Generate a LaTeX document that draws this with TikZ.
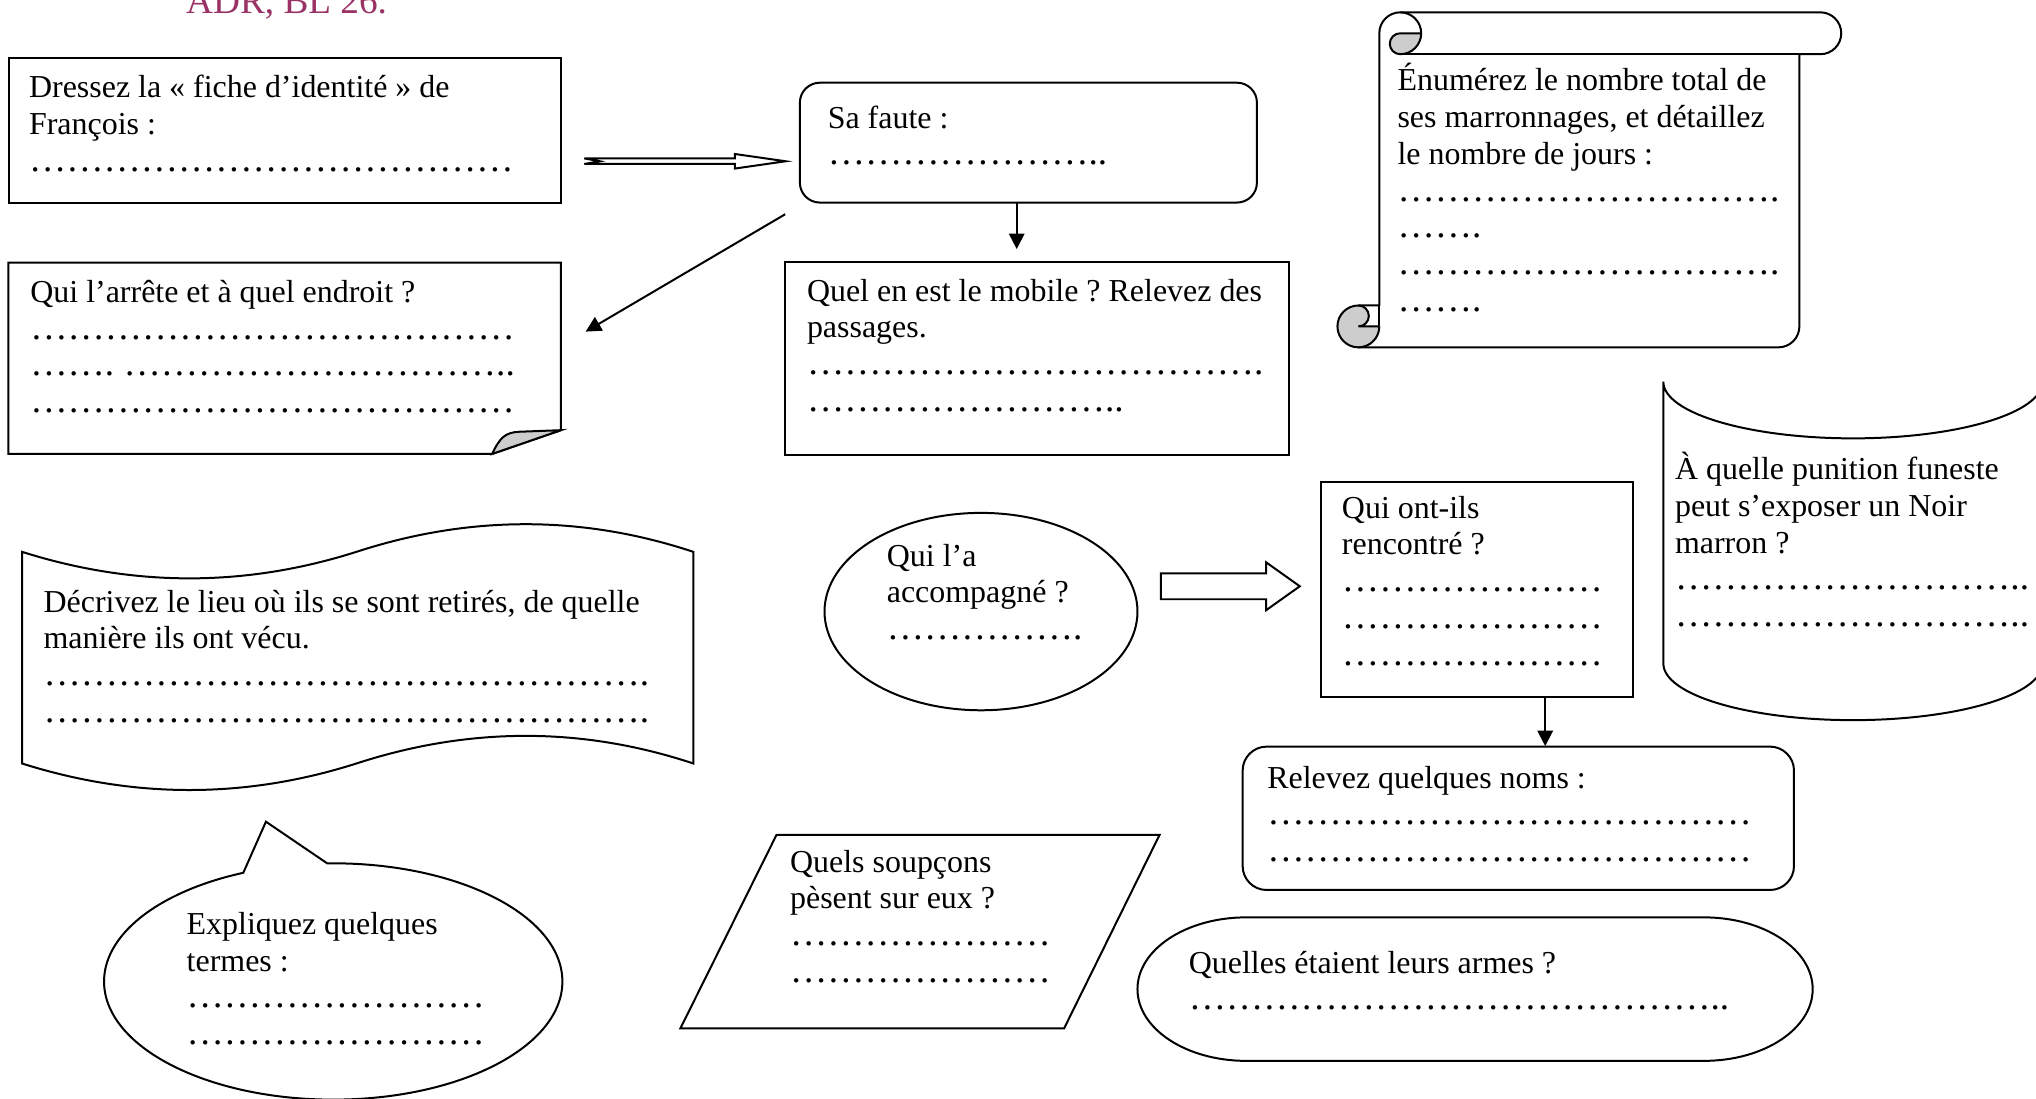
\documentclass[tikz,border=0pt]{standalone}
\usepackage{fontspec}
\setmainfont{Liberation Serif}
\usetikzlibrary{arrows.meta,fit,shapes.geometric}
\definecolor{plumtitle}{RGB}{153,51,102}
\definecolor{foldgray}{RGB}{205,205,205}
\makeatletter
\newcommand\ddd[1]{\count@=#1\relax\loop\ifnum\count@>0 …\advance\count@-1 \repeat}
\makeatother
\newcommand\dl[1]{{\fontsize{14pt}{13.8pt}\selectfont #1}}
\frenchspacing
\tikzset{
  lw/.style={line width=0.75pt},
  boxst/.style={draw, lw, inner sep=0pt, outer sep=0pt},
  txt/.style={anchor=base west, inner sep=0pt, outer sep=0pt, text width=330pt, align=left,
              font=\fontsize{12pt}{13.8pt}\selectfont\frenchspacing,
              execute at begin node={\spaceskip=0pt\xspaceskip=0pt\relax}},
  arr/.style={lw, -{Triangle[length=5.8pt,width=5.8pt]}},
}
\begin{document}
\begin{tikzpicture}[x=0.4878pt, y=-0.4878pt]
\useasboundingbox (0,0) rectangle (1568,846);
\clip (0,0) rectangle (1568,846);

% title
\node[anchor=base west, inner sep=0pt, text=plumtitle, font=\fontsize{14pt}{16pt}\selectfont] (title) at (143,10.3) {ADR, BL 26.};

% box 1
\node[boxst, fit={(7,45)(432,156)}] (b1) {};
\node[txt] (t1) at (22.4,75.2) {Dressez la «~fiche d’identité~» de\\François :\\\dl{\ddd{13}}};

% notched arrow
\draw[lw] (450,122) -- (566,122) -- (566,118.6) -- (605,124.2) -- (566,129.8) -- (566,126.3) -- (450,126.3) -- (462,124.2) -- cycle;

% Sa faute
\node[boxst, rounded corners=7.5pt, fit={(616,63.7)(968,156)}] (b2) {};
\node[txt] (t2) at (637.5,98.6) {Sa faute :\\\dl{\ddd{7}..}};

% Qui l'arrete (folded corner)
\draw[lw] (6.5,202.3) -- (432,202.3) -- (432,331.3) -- (379,349.6) -- (6.5,349.6) -- cycle;
\filldraw[lw, fill=foldgray] (379,349.6) .. controls (385,337) and (389,333) .. (400,332.5) -- (432,331.3) -- cycle;
\node[txt] (t3) at (23.4,232.8) {Qui l’arrête et à quel endroit ?\\\dl{\ddd{13}}\\\dl{\ddd{2}. \ddd{10}..}\\\dl{\ddd{13}}};

% Quel mobile
\node[boxst, fit={(604.6,201.5)(992.7,350.4)}] (b4) {};
\node[txt] (t4) at (621.5,232) {Quel en est le mobile ? Relevez des\\passages.\\\dl{\ddd{12}.}\\\dl{\ddd{8}..}};

% connectors
\coordinate (c1s) at (604.7,165);
\coordinate (c1e) at (451,255.4);
\draw[arr] (c1s) -- (c1e);
\coordinate (c2s) at (783,156);
\coordinate (c2e) at (783,191.8);
\draw[arr] (c2s) -- (c2e);

% scroll
\fill[foldgray] (1094.5,25.625) arc[start angle=0,end angle=90,radius=16.125] arc[start angle=90,end angle=270,radius=8.0625] -- cycle;
\fill[foldgray] (1046.125,251.375) circle[radius=16.125];
\fill[white] (1046.125,235.25) -- (1062.25,235.25) -- (1062.25,251.375) -- (1046.125,251.375) arc[start angle=90,end angle=-90,radius=8.0625] -- cycle;
\draw[lw, line join=round] (1062.25,235.25) -- (1062.25,25.625) arc[start angle=180,end angle=270,radius=16.125] -- (1401.875,9.5) arc[start angle=270,end angle=450,radius=16.125] -- (1385.75,41.75) -- (1385.75,251.375) arc[start angle=0,end angle=90,radius=16.125] -- (1046.125,267.5) arc[start angle=90,end angle=270,radius=16.125] -- cycle;
\draw[lw] (1078.375,9.5) arc[start angle=270,end angle=450,radius=16.125] arc[start angle=90,end angle=270,radius=8.0625] -- (1094.5,25.625);
\draw[lw] (1385.75,41.75) -- (1078.375,41.75);
\draw[lw] (1046.125,235.25) arc[start angle=270,end angle=450,radius=8.0625] -- (1062.25,251.375);
\draw[lw] (1062.25,251.375) arc[start angle=0,end angle=90,radius=16.125];
\draw[lw] (1062.25,251.375) -- (1062.25,235.25);
\node[txt] (t5) at (1076.3,70) {Énumérez le nombre total de\\ses marronnages, et détaillez\\le nombre de jours :\\\dl{\ddd{10}.}\\\dl{\ddd{2}.}\\\dl{\ddd{10}.}\\\dl{\ddd{2}.}};

% punition (punched tape, partly outside)
\draw[lw] (1281,294) arc[start angle=180,end angle=0,x radius=146,y radius=43.6] arc[start angle=180,end angle=360,x radius=146,y radius=43.6] -- (1865,511) arc[start angle=0,end angle=-180,x radius=146,y radius=43.6] arc[start angle=0,end angle=180,x radius=146,y radius=43.6] -- cycle;
\node[txt] (t6) at (1290,369.5) {À quelle punition funeste\\peut s’exposer un Noir\\marron ?\\\dl{\ddd{9}..}\\\dl{\ddd{9}..}};

% double wave
\draw[lw] (17,425) .. controls (103.3,452.3) and (189.7,452.3) .. (276,424.5) .. controls (362.3,396.7) and (448.7,396.7) .. (534,425) -- (534,588) .. controls (448.7,559.7) and (362.3,559.7) .. (276,587.5) .. controls (189.7,615.3) and (103.3,615.3) .. (17,588) -- cycle;
\node[txt] (t7) at (33.6,471.5) {Décrivez le lieu où ils se sont retirés, de quelle\\manière ils ont vécu.\\\dl{\ddd{16}.}\\\dl{\ddd{16}.}};

% Qui l'a
\node[draw, lw, ellipse, minimum width=117.56pt, minimum height=74.15pt, inner sep=0pt] (e1) at (755.5,471) {};
\node[txt] (t8) at (683,436) {Qui l’a\\accompagné ?\\\dl{\ddd{5}.}};

% block arrow
\draw[lw] (894,441.5) -- (975,441.5) -- (975,433) -- (1001,451.5) -- (975,470) -- (975,461.5) -- (894,461.5) -- cycle;

% Qui ont-ils
\node[boxst, fit={(1017,371)(1257.5,537)}] (b9) {};
\node[txt] (t9) at (1033.5,399) {Qui ont-ils\\rencontré ?\\\dl{\ddd{7}}\\\dl{\ddd{7}}\\\dl{\ddd{7}}};
\coordinate (c3s) at (1190,537);
\coordinate (c3e) at (1190,574.6);
\draw[arr] (c3s) -- (c3e);

% Relevez
\node[boxst, rounded corners=9pt, fit={(957,575)(1381.6,685.4)}] (b10) {};
\node[txt] (t10) at (976,607) {Relevez quelques noms :\\\dl{\ddd{13}}\\\dl{\ddd{13}}};

% speech bubble
\draw[lw] (252,664.9) arc[start angle=268.5,end angle=606.9,x radius=176.5,y radius=91] -- (204.8,632.8) -- cycle;
\node[txt] (t11) at (143.8,719.6) {Expliquez quelques\\termes :\\\dl{\ddd{8}}\\\dl{\ddd{8}}};

% parallelogram
\draw[lw] (598,643) -- (893,643) -- (819.5,792) -- (524,792) -- cycle;
\node[txt] (t12) at (608.5,671.7) {Quels soupçons\\pèsent sur eux ?\\\dl{\ddd{7}}\\\dl{\ddd{7}}};

% terminator
\draw[lw] (959.7,706.5) -- (1312.3,706.5) arc[start angle=270,end angle=450,x radius=83.7,y radius=55.25] -- (959.7,817) arc[start angle=90,end angle=270,x radius=83.7,y radius=55.25] -- cycle;
\node[txt] (t13) at (915.6,749.4) {Quelles étaient leurs armes ?\\\dl{\ddd{14}..}};
\end{tikzpicture}
\end{document}
